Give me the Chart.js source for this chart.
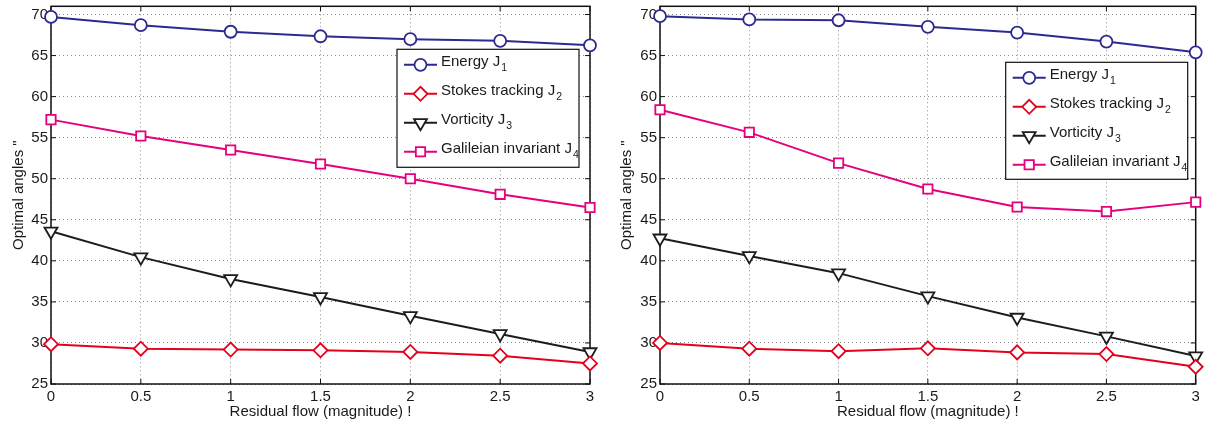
<!DOCTYPE html>
<html>
<head>
<meta charset="utf-8">
<script src="https://cdn.jsdelivr.net/npm/chart.js@4/dist/chart.umd.min.js"></script>
<style>
  html, body { margin: 0; padding: 0; background: #fff; overflow: hidden; }
  .panel { position: absolute; top: -3px; height: 427px; }
</style>
</head>
<body>
<div class="panel" style="left:0;width:600px"><canvas id="left"></canvas></div>
<div class="panel" style="left:608px;width:597px"><canvas id="right"></canvas></div>
<script>
// x values and tick labels
const residualFlow = [0, 0.5, 1, 1.5, 2, 2.5, 3]
const angleTicks = [25, 30, 35, 40, 45, 50, 55, 60, 65, 70]

const seriesLabels = ["Energy J_1", "Stokes tracking J_2", "Vorticity J_3", "Galileian invariant J_4"]

// left panel
const leftEnergy = [69.7, 68.7, 67.9, 67.35, 67.0, 66.8, 66.25]
const leftStokes = [29.85, 29.3, 29.2, 29.1, 28.9, 28.45, 27.5]
const leftVorticity = [43.6, 40.45, 37.8, 35.6, 33.3, 31.1, 28.9]
const leftGalilean = [57.2, 55.2, 53.5, 51.8, 50.0, 48.1, 46.5]

// right panel
const rightEnergy = [69.8, 69.4, 69.3, 68.5, 67.8, 66.7, 65.4]
const rightStokes = [30.0, 29.3, 29.0, 29.35, 28.85, 28.65, 27.1]
const rightVorticity = [42.75, 40.6, 38.5, 35.7, 33.1, 30.8, 28.4]
const rightGalilean = [58.4, 55.65, 51.9, 48.75, 46.55, 46.0, 47.15]

const FONT = '"Liberation Sans", Arial, Helvetica, sans-serif'
const TEXT = "#1a1a1a"

function styleFor(i) {
    //circle, diamond, down triangle, square
    return [
        { borderColor: "#2c2a8e", pointStyle: "circle", pointRadius: 6, rotation: 0 },
        { borderColor: "#e5001c", pointStyle: "rectRot", pointRadius: 7, rotation: 0 },
        { borderColor: "#1c1c1c", pointStyle: "triangle", pointRadius: 7.5, rotation: 180 },
        { borderColor: "#e5007e", pointStyle: "rect", pointRadius: 6.6, rotation: 0 }
    ][i]
}

function makeDatasets(series) {
    return series.map((vals, i) => {
        const s = styleFor(i)
        return {
            label: seriesLabels[i],
            data: vals.map((v, j) => ({ x: residualFlow[j], y: v })),
            borderColor: s.borderColor,
            borderWidth: 2,
            pointStyle: s.pointStyle,
            pointRadius: s.pointRadius,
            pointRotation: s.rotation,
            pointBorderColor: s.borderColor,
            pointBackgroundColor: "#fff",
            pointBorderWidth: 1.8,
            pointHoverRadius: s.pointRadius,
            tension: 0,
            clip: false
        }
    })
}

//Box round the plot with inward tick marks, like the original figure.
const framePlugin = {
    id: "frame",
    beforeDatasetsDraw(chart) {
        const { ctx, chartArea: a, scales: { x, y } } = chart
        ctx.save()
        ctx.strokeStyle = "#111"
        ctx.lineWidth = 1.5
        ctx.strokeRect(a.left, a.top, a.right - a.left, a.bottom - a.top)
        ctx.lineWidth = 1
        ctx.beginPath()
        for (let t of x.ticks) {
            const px = x.getPixelForValue(t.value)
            ctx.moveTo(px, a.bottom); ctx.lineTo(px, a.bottom - 5)
            ctx.moveTo(px, a.top); ctx.lineTo(px, a.top + 5)
        }
        for (let t of y.ticks) {
            const py = y.getPixelForValue(t.value)
            ctx.moveTo(a.left, py); ctx.lineTo(a.left + 5, py)
            ctx.moveTo(a.right, py); ctx.lineTo(a.right - 5, py)
        }
        ctx.stroke()
        ctx.restore()
    }
}

//Legend with subscripts, drawn by hand since the built in one can't do them.
const legendPlugin = {
    id: "boxLegend",
    afterDraw(chart, args, opts) {
        const { ctx, chartArea } = chart
        const bx = chartArea.right - opts.right - opts.width
        const by = chartArea.top + opts.top
        ctx.save()
        ctx.fillStyle = "#fff"
        ctx.fillRect(bx, by, opts.width, opts.height)
        ctx.strokeStyle = "#111"
        ctx.lineWidth = 1.2
        ctx.strokeRect(bx, by, opts.width, opts.height)

        chart.data.datasets.forEach((ds, i) => {
            const cy = by + 15.5 + i * 29
            ctx.strokeStyle = ds.borderColor
            ctx.lineWidth = ds.borderWidth
            ctx.beginPath()
            ctx.moveTo(bx + 7, cy)
            ctx.lineTo(bx + 40, cy)
            ctx.stroke()

            ctx.fillStyle = "#fff"
            ctx.lineWidth = ds.pointBorderWidth
            Chart.helpers.drawPoint(ctx, {
                pointStyle: ds.pointStyle,
                radius: ds.pointRadius,
                rotation: ds.pointRotation,
                borderWidth: ds.pointBorderWidth
            }, bx + 23.5, cy)

            const [main, sub] = ds.label.split("_")
            ctx.fillStyle = TEXT
            ctx.textBaseline = "alphabetic"
            ctx.textAlign = "left"
            ctx.font = "15px " + FONT
            ctx.fillText(main, bx + 44, cy + 1)
            const w = ctx.measureText(main).width
            ctx.font = "10.5px " + FONT
            ctx.fillText(sub, bx + 45 + w, cy + 6.5)
        })
        ctx.restore()
    }
}

function makeChart(id, series, yAxisWidth, padRight, legend) {
    const ctx = document.getElementById(id).getContext("2d")
    return new Chart(ctx, {
        type: "line",
        data: { datasets: makeDatasets(series) },
        plugins: [framePlugin, legendPlugin],
        options: {
            responsive: true,
            maintainAspectRatio: false,
            animation: false,
            layout: { padding: { top: 3, right: padRight, left: 0, bottom: 0 } },
            plugins: {
                legend: { display: false },
                tooltip: { enabled: false },
                boxLegend: legend
            },
            scales: {
                x: {
                    type: "linear",
                    min: 0,
                    max: 3,
                    afterBuildTicks: s => { s.ticks = residualFlow.map(v => ({ value: v })) },
                    afterFit: s => { s.height = 40; s.paddingLeft = 0; s.paddingRight = 0 },
                    grid: { color: "#8a8a8a", lineWidth: 1, drawTicks: false },
                    border: { display: false, dash: [1, 3] },
                    ticks: {
                        padding: 4,
                        color: TEXT,
                        font: { family: FONT, size: 15 },
                        callback: v => String(v),
                        maxRotation: 0,
                        autoSkip: false
                    },
                    title: {
                        display: true,
                        text: "Residual flow (magnitude) !",
                        color: TEXT,
                        font: { family: FONT, size: 15 },
                        padding: { top: 0, bottom: 3 }
                    }
                },
                y: {
                    type: "linear",
                    min: 25,
                    max: 71,
                    afterBuildTicks: s => { s.ticks = angleTicks.map(v => ({ value: v })) },
                    afterFit: s => { s.width = yAxisWidth; s.paddingTop = 0; s.paddingBottom = 0 },
                    grid: { color: "#8a8a8a", lineWidth: 1, drawTicks: false },
                    border: { display: false, dash: [1, 3] },
                    ticks: {
                        padding: 3,
                        color: TEXT,
                        font: { family: FONT, size: 15 },
                        callback: v => String(v),
                        autoSkip: false
                    },
                    title: {
                        display: true,
                        text: "Optimal angles \"",
                        color: TEXT,
                        font: { family: FONT, size: 15 },
                        padding: { top: 10, bottom: 0 }
                    }
                }
            }
        }
    })
}

makeChart("left", [leftEnergy, leftStokes, leftVorticity, leftGalilean], 51, 10,
    { right: 11, top: 43, width: 182, height: 118 })
makeChart("right", [rightEnergy, rightStokes, rightVorticity, rightGalilean], 52, 6,
    { right: 8, top: 56, width: 182, height: 117 })
</script>
</body>
</html>
